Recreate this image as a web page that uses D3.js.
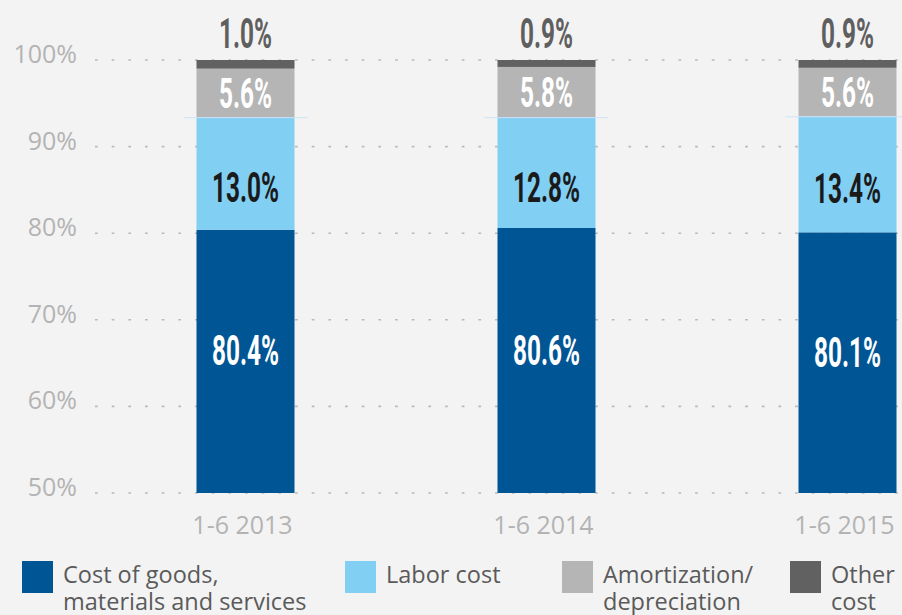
<!DOCTYPE html>
<html lang="en">
<head>
  <meta charset="utf-8" />
  <title>Cost structure 1-6 2013-2015</title>
  <style>
    html, body { margin: 0; padding: 0; background: #f3f3f3; }
    svg { display: block; }
    .tick-label { font-family: "Open Sans", sans-serif; font-size: 25px; fill: #b3b3b3; }
    .legend-label { font-family: "Open Sans", sans-serif; font-size: 23.5px; fill: #5a5a5a; }
    .val { font-family: Roboto, sans-serif; font-weight: 700; font-size: 42px; }
  </style>
</head>
<body>
<div id="chart"></div>
<script src="https://d3js.org/d3.v7.min.js"></script>
<script>
  // datos
  const periods = ["1-6 2013", "1-6 2014", "1-6 2015"];
  const seriesNames = ["Cost of goods, materials and services", "Labor cost", "Amortization/depreciation", "Other cost"];
  const goods = [80.4, 80.6, 80.1];
  const labor = [13.0, 12.8, 13.4];
  const amort = [5.6, 5.8, 5.6];
  const other = [1.0, 0.9, 0.9];
  const yTicks = [50, 60, 70, 80, 90, 100];
  const legendLines = [["Cost of goods,", "materials and services"], ["Labor cost"], ["Amortization/", "depreciation"], ["Other", "cost"]];

  const W = 902, H = 615;
  const colors = ["#005594", "#82cff4", "#b5b5b5", "#616161"];
  const labelColors = ["#ffffff", "#1a1a1a", "#ffffff", "#5f5f5f"];
  const labelShift = [-11, 14, 0, 0]; // px, respecto al centro del segmento

  const svg = d3.select("#chart").append("svg").attr("width", W).attr("height", H);
  svg.append("rect").attr("width", W).attr("height", H).attr("fill", "#f3f3f3");

  const y = d3.scaleLinear().domain([50, 100]).range([493, 60]);
  const x = d3.scalePoint().domain(periods).range([245.5, 847.5]);
  const barW = 98;

  // grid
  svg.append("g").selectAll("line").data(yTicks).join("line")
    .attr("x1", 95).attr("x2", W)
    .attr("y1", d => y(d)).attr("y2", d => y(d))
    .attr("stroke", "#b9b9b9").attr("stroke-width", 1.6)
    .attr("stroke-dasharray", "2.7 13.97");

  svg.append("g").selectAll("text").data(yTicks).join("text")
    .attr("class", "tick-label")
    .attr("x", 77).attr("y", d => y(d) + 3)
    .attr("text-anchor", "end")
    .text(d => d + "%");

  svg.append("g").selectAll("text").data(periods).join("text")
    .attr("class", "tick-label")
    .attr("x", d => x(d) - 3).attr("y", 534)
    .attr("text-anchor", "middle")
    .text(d => d);

  // stack
  const rows = periods.map((p, i) => ({ period: p, s0: goods[i], s1: labor[i], s2: amort[i], s3: other[i] }));
  const keys = ["s0", "s1", "s2", "s3"];
  const stack = d3.stack().keys(keys)(rows);

  const layers = svg.append("g").selectAll("g").data(stack).join("g")
    .attr("fill", (d, i) => colors[i]);

  layers.selectAll("rect").data(d => d).join("rect")
    .attr("x", d => x(d.data.period) - barW / 2)
    .attr("width", barW)
    .attr("y", d => y(Math.min(d[1], 100)))
    .attr("height", d => y(Math.max(d[0], 50)) - y(Math.min(d[1], 100)));

  // linea fina sobre el segmento labor
  svg.append("g").selectAll("line").data(stack[1]).join("line")
    .attr("x1", d => x(d.data.period) - barW / 2 - 13)
    .attr("x2", d => x(d.data.period) + barW / 2 + 13)
    .attr("y1", d => y(d[1]) + 0.5).attr("y2", d => y(d[1]) + 0.5)
    .attr("stroke", "#cde4f5").attr("stroke-width", 1);

  // etiquetas
  stack.forEach((layer, i) => {
    svg.append("g").selectAll("text").data(layer).join("text")
      .attr("class", "val")
      .attr("fill", labelColors[i])
      .attr("text-anchor", "middle")
      .attr("transform", d => {
        let cy;
        if (i === 3) cy = y(100) - 27;
        else cy = y((Math.max(d[0], 50) + d[1]) / 2) + labelShift[i];
        return `translate(${x(d.data.period)},${cy + 15}) scale(0.58,1)`;
      })
      .text(d => (d[1] - d[0]).toFixed(1) + "%");
  });

  // leyenda
  const legendX = [22, 345, 562, 790];
  const lg = svg.append("g").selectAll("g").data(seriesNames).join("g")
    .attr("transform", (d, i) => `translate(${legendX[i]},561)`);
  lg.append("rect").attr("width", 31).attr("height", 32).attr("fill", (d, i) => colors[i]);
  lg.append("text").attr("class", "legend-label")
    .selectAll("tspan").data((d, i) => legendLines[i]).join("tspan")
    .attr("x", 41).attr("y", (d, j) => 22 + j * 27)
    .text(d => d);
</script>
</body>
</html>
